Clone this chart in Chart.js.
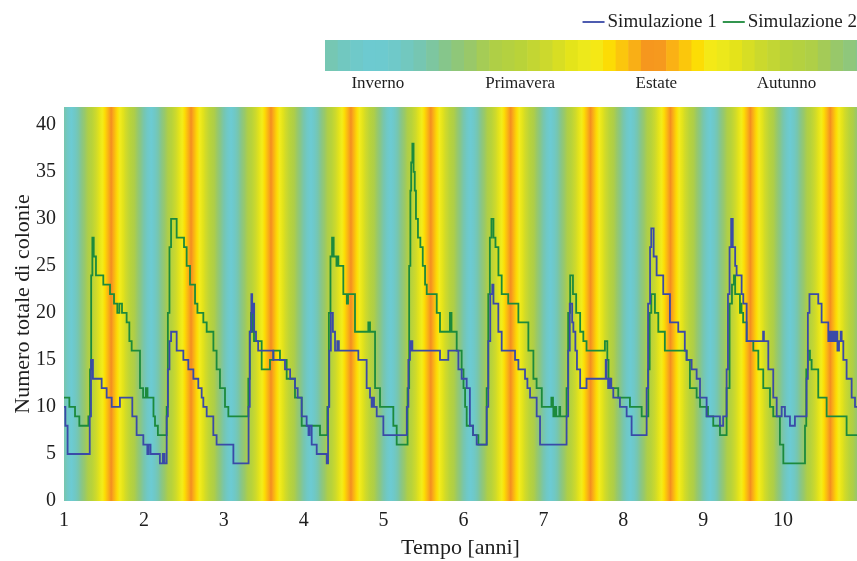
<!DOCTYPE html>
<html>
<head>
<meta charset="utf-8">
<script src="https://cdn.jsdelivr.net/npm/chart.js@4/dist/chart.umd.min.js"></script>
<style>
  html, body { margin: 0; padding: 0; background: #fff; }
  #wrap { width: 857px; height: 561px; }
</style>
</head>
<body>
<div id="wrap"><canvas id="colonieChart" width="857" height="561"></canvas></div>
<script>
// Simulazione 1: inizio di ogni gradino (anni) e numero di colonie
const t1 = [1.000, 1.017, 1.045, 1.322, 1.338, 1.362, 1.471, 1.534, 1.597, 1.700, 1.855, 1.909, 1.993, 2.043, 2.058, 2.083, 2.200, 2.237, 2.258,
  2.285, 2.300, 2.320, 2.340, 2.410, 2.494, 2.556, 2.619, 2.681, 2.723, 2.744, 2.786, 2.869, 2.910, 3.120,
  3.310, 3.325, 3.345, 3.355, 3.365, 3.380, 3.403, 3.430, 3.620, 3.766, 3.830, 3.891, 3.925, 3.975, 4.037, 4.060, 4.075, 4.100, 4.163, 4.288,
  4.305, 4.320, 4.340, 4.365, 4.392, 4.420, 4.440, 4.684, 4.788, 4.830, 4.850, 4.870, 4.880, 4.914, 4.997,
  5.290, 5.310, 5.330, 5.345, 5.352, 5.360, 5.706, 5.810, 5.936, 5.977, 6.040, 6.080, 6.120, 6.165,
  6.290, 6.310, 6.335, 6.360, 6.375, 6.436, 6.478, 6.645, 6.687, 6.770, 6.800, 6.833, 6.916, 6.958,
  7.290, 7.310, 7.330, 7.360, 7.375, 7.400, 7.420, 7.460, 7.540, 7.780, 7.790, 7.810, 7.830, 7.850, 7.875, 7.958, 8.042, 8.104,
  8.292, 8.310, 8.335, 8.350, 8.380, 8.417, 8.500, 8.584, 8.688, 8.770, 8.792, 8.855, 8.918, 8.960, 9.043, 9.210, 9.250,
  9.293, 9.310, 9.330, 9.350, 9.370, 9.400, 9.418, 9.481, 9.502, 9.544, 9.750, 9.760, 9.815, 9.877, 9.920, 9.982, 10.023, 10.086, 10.148,
  10.294, 10.310, 10.330, 10.440, 10.482, 10.566, 10.580, 10.600, 10.620, 10.640, 10.660, 10.680, 10.700, 10.720, 10.733, 10.754, 10.795, 10.858, 10.900, 10.925];
const sim1 = [10, 8, 5, 9, 15, 13, 12, 11, 10, 11, 9, 7, 6, 5, 6, 5, 4, 5, 4,
  9, 14, 17, 18, 16, 15, 14, 13, 12, 11, 10, 9, 7, 6, 4,
  10, 18, 22, 20, 21, 18, 17, 16, 15, 14, 13, 12, 11, 9, 8, 7, 8, 6, 5, 4,
  10, 16, 20, 18, 16, 17, 16, 15, 12, 11, 10, 11, 10, 9, 7,
  10, 15, 17, 16, 17, 16, 15, 16, 14, 13, 12, 8, 7, 6,
  10, 17, 22, 23, 21, 18, 16, 15, 14, 13, 12, 11, 9, 6,
  9, 16, 21, 19, 18, 16, 14, 12, 13, 15, 13, 12, 13, 12, 11, 10, 9, 7,
  12, 21, 27, 29, 26, 24, 22, 19, 18, 16, 15, 14, 13, 11, 9, 8, 9,
  14, 22, 27, 30, 27, 25, 24, 22, 21, 17, 18, 17, 14, 11, 9, 10, 9, 8, 9,
  13, 20, 22, 21, 19, 17, 18, 17, 18, 17, 18, 16, 17, 18, 17, 15, 13, 11, 10, 10];

// Simulazione 2
const t2 = [1.000, 1.067, 1.138, 1.192, 1.305, 1.325, 1.340, 1.355, 1.372, 1.400, 1.492, 1.576, 1.626, 1.667, 1.693, 1.726, 1.784, 1.818, 1.847,
  1.951, 1.990, 2.025, 2.045, 2.120, 2.139, 2.175,
  2.285, 2.300, 2.320, 2.340, 2.410, 2.502, 2.535, 2.577, 2.640, 2.670, 2.744, 2.786, 2.870, 2.910, 2.952, 3.015, 3.057,
  3.307, 3.325, 3.340, 3.358, 3.365, 3.378, 3.474, 3.578, 3.620, 3.703, 3.787, 3.891, 3.975, 4.204,
  4.296, 4.315, 4.335, 4.355, 4.375, 4.410, 4.420, 4.434, 4.496, 4.540, 4.555, 4.642, 4.809, 4.830, 4.893, 4.955, 5.122, 5.164,
  5.300, 5.320, 5.335, 5.345, 5.360, 5.375, 5.390, 5.405, 5.430, 5.460, 5.490, 5.519, 5.540, 5.665, 5.706, 5.830, 5.850, 5.915, 5.977, 6.000, 6.020, 6.040, 6.120, 6.186,
  6.290, 6.310, 6.330, 6.350, 6.375, 6.400, 6.437, 6.478, 6.560, 6.687, 6.812, 6.875, 6.915, 6.980, 7.100, 7.120, 7.125, 7.140, 7.160, 7.200, 7.210,
  7.290, 7.310, 7.335, 7.370, 7.410, 7.460, 7.500, 7.540, 7.770, 7.800, 7.815, 7.833, 7.937, 8.083, 8.230,
  8.313, 8.330, 8.350, 8.396, 8.438, 8.520, 8.793, 8.834, 8.918, 8.960, 9.043, 9.050, 9.060, 9.126, 9.210,
  9.293, 9.330, 9.360, 9.385, 9.400, 9.418, 9.460, 9.470, 9.480, 9.500, 9.544, 9.627, 9.690, 9.752, 9.836, 9.877, 9.960, 10.003,
  10.274, 10.290, 10.310, 10.336, 10.357, 10.440, 10.545, 10.795, 10.925];
const sim2 = [11, 10, 9, 8, 9, 14, 24, 28, 26, 24, 23, 22, 21, 20, 21, 20, 19, 17, 16,
  12, 11, 12, 11, 9, 8, 7,
  10, 20, 27, 30, 28, 27, 25, 23, 21, 20, 19, 18, 16, 14, 12, 10, 9,
  13, 18, 20, 18, 20, 17, 14, 15, 16, 15, 13, 11, 8, 7,
  10, 20, 26, 28, 26, 25, 26, 25, 22, 21, 22, 18, 19, 18, 12, 10, 8, 6,
  12, 25, 33, 36, 38, 35, 33, 30, 28, 27, 25, 23, 22, 20, 18, 20, 18, 16, 14, 12, 10, 8, 7, 6,
  12, 22, 28, 30, 28, 27, 24, 22, 21, 19, 16, 13, 12, 10, 11, 10, 9, 10, 9, 10, 9,
  12, 20, 24, 22, 20, 18, 17, 16, 17, 15, 13, 12, 11, 10, 9,
  14, 20, 22, 20, 18, 16, 15, 12, 11, 10, 9, 10, 9, 8, 7,
  12, 21, 23, 24, 22, 22, 20, 21, 20, 19, 17, 16, 14, 12, 10, 9, 6, 4,
  8, 14, 16, 15, 14, 11, 9, 7, 7];

const seriesNames = ['Simulazione 1', 'Simulazione 2'];
const seasons = ['Inverno', 'Primavera', 'Estate', 'Autunno'];
const yTicks = [0, 5, 10, 15, 20, 25, 30, 35, 40];
const xTicks = [1, 2, 3, 4, 5, 6, 7, 8, 9, 10];

const FONT = "'Liberation Serif', 'Times New Roman', serif";
const TEXT = '#1e1e1e';

// colormap stagionale: distanza (frazione d'anno) dal picco invernale
const cmapStops = [
  [0.00, [108, 203, 211]], [0.05, [112, 200, 196]], [0.09, [120, 198, 172]],
  [0.13, [136, 198, 135]], [0.17, [152, 200, 106]], [0.21, [174, 206, 72]],
  [0.26, [184, 211, 58]], [0.31, [205, 217, 44]], [0.35, [227, 227, 26]],
  [0.39, [242, 236, 28]], [0.42, [252, 221, 5]], [0.45, [251, 192, 15]],
  [0.48, [248, 162, 28]], [0.50, [243, 140, 32]]
];
const WINTER_PHASE = 0.09;

function seasonColor(t) {
  const f = t - Math.floor(t);
  const u = ((f - WINTER_PHASE) % 1 + 1) % 1;
  const d = u <= 0.5 ? u : 1 - u;
  for (let i = 1; i < cmapStops.length; i++) {
    if (d <= cmapStops[i][0]) {
      const [d0, c0] = cmapStops[i - 1], [d1, c1] = cmapStops[i];
      const k = (d - d0) / (d1 - d0);
      const c = c0.map((v, j) => Math.round(v + (c1[j] - v) * k));
      return 'rgb(' + c.join(',') + ')';
    }
  }
  return 'rgb(' + cmapStops[cmapStops.length - 1][1].join(',') + ')';
}

// sfondo a bande stagionali dentro l'area del grafico
const seasonBg = {
  id: 'seasonBg',
  beforeDatasetsDraw(chart) {
    const {ctx, chartArea: a, scales: {x}} = chart;
    const x0 = x.getPixelForValue(x.min), x1 = x.getPixelForValue(x.max);
    const g = ctx.createLinearGradient(x0, 0, x1, 0);
    const n = Math.ceil((x.max - x.min) * 120);
    for (let i = 0; i <= n; i++) {
      g.addColorStop(i / n, seasonColor(x.min + (x.max - x.min) * i / n));
    }
    ctx.save();
    ctx.fillStyle = g;
    ctx.fillRect(a.left, a.top, a.width, a.height);
    ctx.restore();
  }
};

// barra colori + legenda in alto
const topDecor = {
  id: 'topDecor',
  afterDraw(chart) {
    const ctx = chart.ctx;
    ctx.save();
    // barra colori (un anno)
    const bx = 325, by = 40, bw = 556, bh = 31, blocks = 44;
    for (let i = 0; i < blocks; i++) {
      ctx.fillStyle = seasonColor((i + 0.5) / blocks);
      ctx.fillRect(bx + bw * i / blocks, by, bw / blocks + 0.6, bh);
    }
    ctx.fillStyle = TEXT;
    ctx.font = '17px ' + FONT;
    ctx.textAlign = 'center';
    ctx.textBaseline = 'middle';
    const pos = [0.095, 0.351, 0.596, 0.83];
    seasons.forEach((s, i) => ctx.fillText(s, bx + bw * pos[i], 84));

    // legenda
    ctx.font = '19px ' + FONT;
    ctx.textAlign = 'left';
    let x = chart.width;
    const items = chart.data.datasets.slice().reverse();
    items.forEach((ds) => {
      const w = ctx.measureText(ds.label).width;
      x -= w;
      ctx.fillStyle = TEXT;
      ctx.fillText(ds.label, x, 22);
      x -= 3;
      ctx.strokeStyle = ds.borderColor;
      ctx.lineWidth = 1.8;
      ctx.beginPath();
      ctx.moveTo(x - 22, 22);
      ctx.lineTo(x, 22);
      ctx.stroke();
      x -= 22 + 6;
    });
    ctx.restore();
  }
};

const toPts = (ts, ys) => ts.map((t, i) => ({x: t, y: ys[i]}));

new Chart(document.getElementById('colonieChart'), {
  type: 'line',
  data: {
    datasets: [
      { label: seriesNames[0], data: toPts(t1, sim1), borderColor: '#3a4aa8', borderWidth: 1.8, stepped: true, pointRadius: 0, fill: false },
      { label: seriesNames[1], data: toPts(t2, sim2), borderColor: '#1c8a3c', borderWidth: 1.8, stepped: true, pointRadius: 0, fill: false }
    ]
  },
  options: {
    responsive: false,
    animation: false,
    devicePixelRatio: 1,
    layout: { padding: { top: 107, right: 0, bottom: 0, left: 0 } },
    plugins: { legend: { display: false }, tooltip: { enabled: false } },
    scales: {
      x: {
        type: 'linear', min: 1, max: 10.925,
        grid: { display: false, drawTicks: false },
        border: { display: false },
        afterBuildTicks: s => { s.ticks = xTicks.map(v => ({value: v})); },
        afterFit: s => { s.height = 60; },
        ticks: { padding: 8, color: TEXT, font: { family: FONT, size: 20 }, maxRotation: 0, autoSkip: false },
        title: { display: true, text: 'Tempo [anni]', color: TEXT, font: { family: FONT, size: 22 }, padding: { top: 0, bottom: 0 } }
      },
      y: {
        min: 0, max: 41.9,
        grid: { display: false, drawTicks: false },
        border: { display: false },
        afterBuildTicks: s => { s.ticks = yTicks.map(v => ({value: v})); },
        afterFit: s => { s.width = 64; },
        ticks: { padding: 8, color: TEXT, font: { family: FONT, size: 20 } },
        title: { display: true, text: 'Numero totale di colonie', color: TEXT, font: { family: FONT, size: 22 }, padding: { top: 10, bottom: 0 } }
      }
    }
  },
  plugins: [seasonBg, topDecor]
});
</script>
</body>
</html>
